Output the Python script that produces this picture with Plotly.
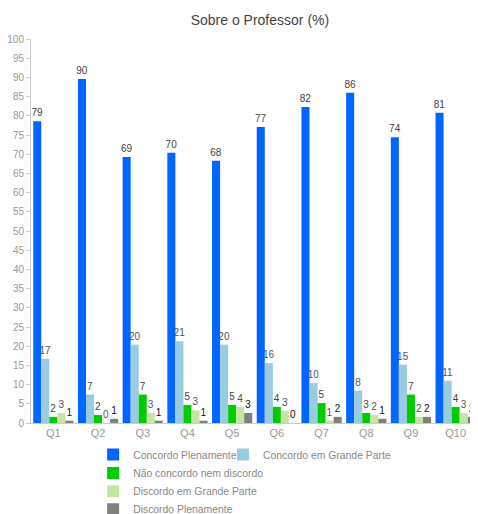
import plotly.graph_objects as go

categories = ["Q1", "Q2", "Q3", "Q4", "Q5", "Q6", "Q7", "Q8", "Q9", "Q10"]
concordo_plenamente = [78.6, 89.6, 69.3, 70.4, 68.3, 77.1, 82.3, 86.0, 74.4, 80.8]
concordo_grande_parte = [16.7, 7.4, 20.4, 21.3, 20.4, 15.6, 10.4, 8.4, 15.2, 11.0]
nao_concordo_nem_discordo = [1.6, 2.1, 7.4, 4.7, 4.7, 4.2, 5.2, 2.6, 7.4, 4.2]
discordo_grande_parte = [2.6, 0.0, 2.6, 3.3, 4.2, 3.2, 0.6, 2.1, 1.6, 2.6]
discordo_plenamente = [0.6, 1.1, 0.6, 0.6, 2.6, 0.0, 1.6, 1.1, 1.6, 1.6]

series = [
    ("Concordo Plenamente", concordo_plenamente, "#0066ff", "legend", "#444444"),
    ("Concordo em Grande Parte", concordo_grande_parte, "#99cce0", "legend5", "#555555"),
    ("Não concordo nem discordo", nao_concordo_nem_discordo, "#00cc00", "legend2", "#444444"),
    ("Discordo em Grande Parte", discordo_grande_parte, "#c4e6a4", "legend3", "#555555"),
    ("Discordo Plenamente", discordo_plenamente, "#808080", "legend4", "#111111"),
]

fig = go.Figure()
for name, vals, color, leg, tcol in series:
    fig.add_trace(go.Bar(
        x=categories, y=vals, name=name,
        marker=dict(color=color, line=dict(width=0)),
        texttemplate="%{y:.0f}", textposition="outside",
        textfont=dict(size=10, color=tcol, family="Liberation Sans, Arial, sans-serif"),
        constraintext="none", cliponaxis=False, legend=leg, showlegend=True,
    ))

legend_font = dict(size=10.4, color="#888888", family="Liberation Sans, Arial, sans-serif")
leg_common = dict(xanchor="left", yanchor="middle", font=legend_font, orientation="v",
                  traceorder="normal", bgcolor="rgba(0,0,0,0)", visible=True)

fig.update_layout(
    width=470, height=514, showlegend=True,
    margin=dict(l=23, r=0, t=31, b=99, autoexpand=False),
    paper_bgcolor="white", plot_bgcolor="white",
    font=dict(family="Liberation Sans, Arial, sans-serif", color="#999999"),
    title=dict(text="Sobre o Professor (%)", x=0.536, xanchor="center", y=0.977, yanchor="middle",
               font=dict(size=14, color="#444444")),
    barmode="group", bargap=0.1, bargroupgap=0,
    xaxis=dict(showline=True, linecolor="#cccccc", linewidth=1, ticks="",
               tickfont=dict(size=11, color="#999999"), showgrid=False),
    yaxis=dict(range=[0, 100], dtick=5, showline=True, linecolor="#cccccc", linewidth=1,
               ticks="outside", ticklen=4, tickcolor="#cccccc", showgrid=False, zeroline=False,
               tickfont=dict(size=10, color="#999999")),
    legend=dict(x=0.139, y=-0.082, **leg_common),
    legend5=dict(x=0.4295, y=-0.082, **leg_common),
    legend2=dict(x=0.139, y=-0.130, **leg_common),
    legend3=dict(x=0.139, y=-0.178, **leg_common),
    legend4=dict(x=0.139, y=-0.2245, **leg_common),
)

fig.write_html("out.html")
